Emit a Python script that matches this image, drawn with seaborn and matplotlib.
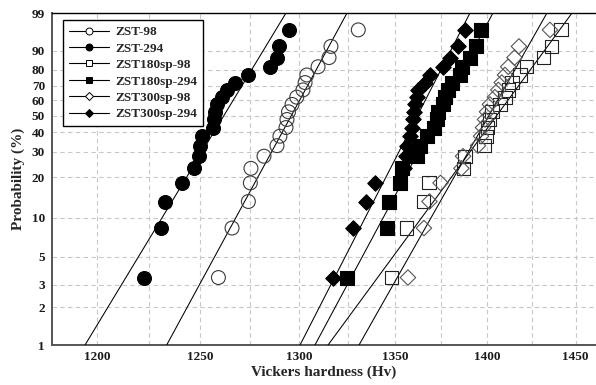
import numpy as np
import pandas as pd
import matplotlib
matplotlib.use("Agg")
import matplotlib.pyplot as plt
from matplotlib.lines import Line2D
from matplotlib.ticker import FixedLocator, FixedFormatter, NullFormatter
import seaborn as sns

# ---------------- data ----------------
series = ["ZST-98", "ZST-294", "ZST180sp-98", "ZST180sp-294", "ZST300sp-98", "ZST300sp-294"]

# cumulative probability (%) of the 20 ranked specimens
prob = [3.43, 8.33, 13.24, 18.14, 23.04, 27.94, 32.84, 37.75, 42.65, 47.55,
        52.45, 57.35, 62.25, 67.16, 72.06, 76.96, 81.86, 86.76, 91.67, 96.57]

zst_98 = [1259.0, 1265.8, 1274.0, 1275.0, 1275.3, 1281.9, 1288.5, 1290.0, 1293.1, 1293.6,
          1294.4, 1296.2, 1298.6, 1301.8, 1302.9, 1303.8, 1309.6, 1315.3, 1316.3, 1330.6]
zst_294 = [1222.6, 1230.8, 1232.7, 1240.9, 1246.9, 1249.5, 1249.9, 1250.7, 1256.5, 1256.8,
           1257.1, 1258.2, 1260.8, 1263.3, 1267.3, 1274.0, 1285.0, 1288.5, 1289.6, 1294.4]
zst180_98 = [1348.2, 1356.3, 1365.4, 1368.3, 1387.1, 1388.0, 1398.4, 1399.5, 1400.6, 1401.7,
             1402.9, 1407.3, 1410.1, 1411.9, 1414.0, 1418.5, 1422.2, 1431.6, 1436.4, 1441.7]
zst180_294 = [1324.5, 1345.6, 1346.9, 1352.5, 1353.6, 1361.7, 1363.5, 1367.1, 1371.1, 1372.7,
              1373.4, 1376.1, 1377.0, 1378.8, 1380.7, 1385.2, 1386.2, 1390.7, 1394.0, 1396.6]
zst300_98 = [1357.0, 1365.6, 1368.6, 1374.6, 1386.0, 1386.9, 1395.1, 1396.8, 1397.9, 1399.0,
             1400.1, 1401.7, 1404.5, 1406.4, 1408.3, 1410.1, 1411.9, 1415.4, 1417.9, 1435.4]
zst300_294 = [1317.5, 1327.8, 1334.5, 1339.4, 1354.9, 1355.7, 1356.5, 1358.1, 1359.0, 1359.7,
              1360.3, 1360.8, 1361.7, 1362.6, 1366.2, 1368.9, 1376.1, 1379.8, 1384.3, 1388.0]

# Weibull fit lines: hardness at 1 % and at 99 % probability
fit_at_1 = [1233.5, 1194.3, 1314.8, 1308.0, 1331.0, 1300.3]
fit_at_99 = [1324.7, 1293.1, 1448.0, 1403.4, 1433.7, 1390.7]

x_ticks = [1200, 1250, 1300, 1350, 1400, 1450]
x_minor = [1225, 1275, 1325, 1375, 1425]
y_ticks = [1, 2, 3, 5, 10, 20, 30, 40, 50, 60, 70, 80, 90, 99]

values = [zst_98, zst_294, zst180_98, zst180_294, zst300_98, zst300_294]
df = pd.DataFrame({
    "series": np.repeat(series, len(prob)),
    "hv": np.concatenate(values),
    "p": np.tile(prob, len(series)),
})

# ---------------- styling ----------------
sns.set_theme(style="white")
plt.rcParams["font.family"] = ["Liberation Serif", "DejaVu Serif"]
plt.rcParams["font.weight"] = "bold"

styles = {
    "ZST-98":       dict(marker="o", s=100, fc="none", ec="#3a3a3a"),
    "ZST-294":      dict(marker="o", s=100, fc="black", ec="black"),
    "ZST180sp-98":  dict(marker="s", s=90, fc="none", ec="#222222"),
    "ZST180sp-294": dict(marker="s", s=90, fc="black", ec="black"),
    "ZST300sp-98":  dict(marker="D", s=62, fc="none", ec="#555555"),
    "ZST300sp-294": dict(marker="D", s=62, fc="black", ec="black"),
}


def fwd(p):
    p = np.clip(np.asarray(p, dtype=float), 1e-9, 100 - 1e-9)
    return np.log(-np.log(1 - p / 100.0))


def inv(g):
    return 100.0 * (1 - np.exp(-np.exp(np.asarray(g, dtype=float))))


fig = plt.figure(figsize=(5.96, 3.85), dpi=100)
ax = fig.add_axes([52 / 596, 1 - 345 / 385, 543 / 596, 332 / 385])
ax.set_xscale("log")
ax.set_yscale("function", functions=(fwd, inv))

# fit lines
for name, lo, hi in zip(series, fit_at_1, fit_at_99):
    sns.lineplot(x=[lo, hi], y=[1, 99], ax=ax, color="black", lw=0.75,
                 sort=False, estimator=None, zorder=3)

# points
for name in series:
    st = styles[name]
    sub = df[df["series"] == name]
    sns.scatterplot(data=sub, x="hv", y="p", ax=ax, marker=st["marker"], s=st["s"],
                    facecolor=st["fc"], edgecolor=st["ec"], linewidth=0.8, zorder=4)

ax.set_xlim(1178.8, 1461.2)
ax.set_ylim(1, 99)

ax.xaxis.set_major_locator(FixedLocator(x_ticks))
ax.xaxis.set_major_formatter(FixedFormatter([str(t) for t in x_ticks]))
ax.xaxis.set_minor_locator(FixedLocator(x_minor))
ax.xaxis.set_minor_formatter(NullFormatter())
ax.yaxis.set_major_locator(FixedLocator(y_ticks))
ax.yaxis.set_major_formatter(FixedFormatter([str(t) for t in y_ticks]))
ax.yaxis.set_minor_locator(FixedLocator([]))

ax.grid(True, which="both", axis="x", color="#c8c8c8", linestyle=(0, (4, 3)), lw=0.8, zorder=0)
ax.grid(True, which="major", axis="y", color="#c8c8c8", linestyle=(0, (4, 3)), lw=0.8, zorder=0)
ax.set_axisbelow(True)

ax.tick_params(axis="both", which="both", length=0, labelsize=9.5, colors="#1a1a1a")
ax.tick_params(axis="x", pad=4)
ax.tick_params(axis="y", pad=5)
for lab in ax.get_xticklabels() + ax.get_yticklabels():
    lab.set_fontweight("bold")

ax.set_xlabel("Vickers hardness (Hv)", fontsize=11, fontweight="bold", labelpad=2)
ax.set_ylabel("Probability (%)", fontsize=11, fontweight="bold", labelpad=5)

for side in ["left", "bottom"]:
    ax.spines[side].set_color("#555555")
    ax.spines[side].set_linewidth(1.4)
ax.spines["top"].set_color("black")
ax.spines["top"].set_linewidth(1.0)
ax.spines["right"].set_visible(False)

handles = []
for name in series:
    st = styles[name]
    handles.append(Line2D([0], [0], color="black", lw=0.8, marker=st["marker"],
                          ms=5 if st["marker"] != "D" else 4.2,
                          mfc=st["fc"] if st["fc"] != "none" else "white",
                          mec="black", mew=0.7))
leg = ax.legend(handles, series, loc="upper left", bbox_to_anchor=(0.0203, 0.979),
                borderaxespad=0, frameon=True, fancybox=False, framealpha=1,
                edgecolor="black", handlelength=3.0, handletextpad=0.5,
                labelspacing=0.32, borderpad=0.45,
                prop={"family": ["Liberation Serif"], "weight": "bold", "size": 9.5})
leg.get_frame().set_linewidth(1.0)
leg.set_zorder(10)

fig.savefig("out.png", dpi=100)
